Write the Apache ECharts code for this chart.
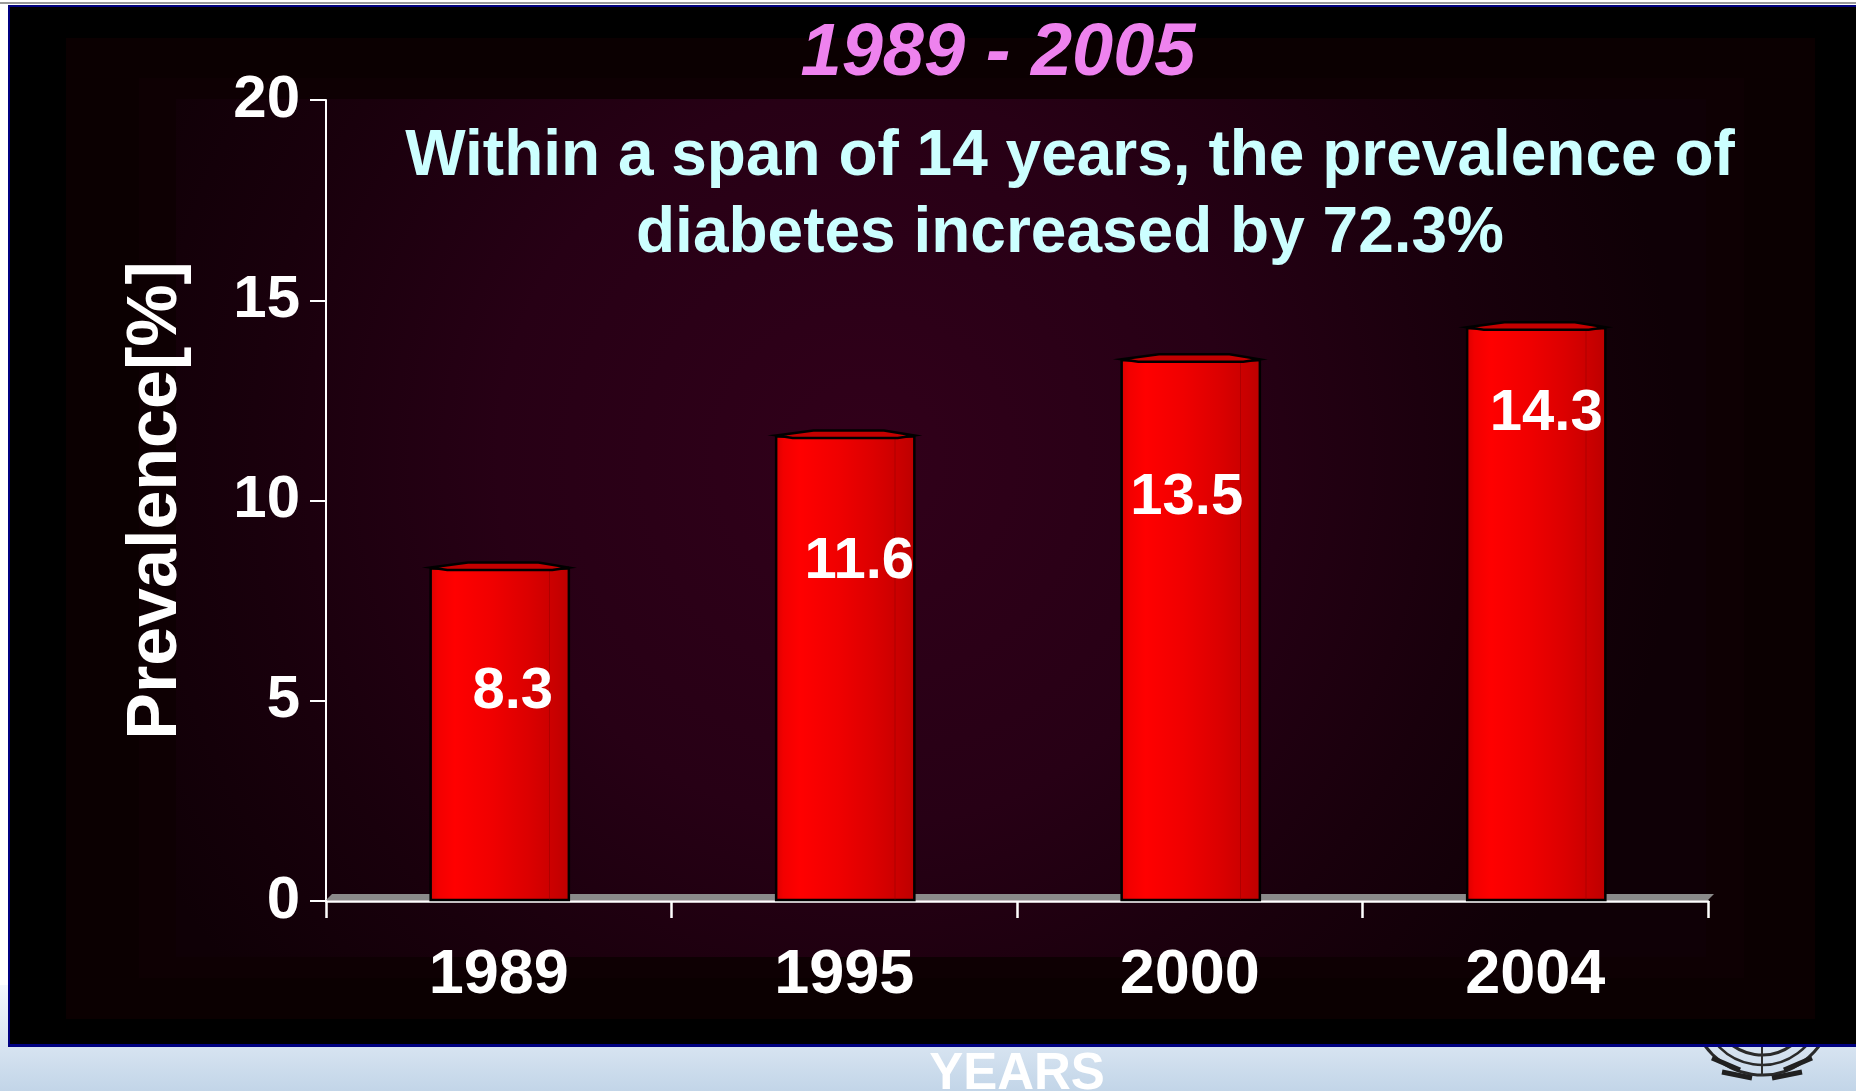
<!DOCTYPE html>
<html>
<head>
<meta charset="utf-8">
<script src="https://cdn.jsdelivr.net/npm/echarts@6/dist/echarts.min.js"></script>
<style>
html,body{margin:0;padding:0;background:#fff;}
#chart{width:1856px;height:1091px;}
</style>
</head>
<body>
<div id="chart"></div>
<script>
// ---- data ----
const categories = ['1989', '1995', '2000', '2004'];
const prevalence = [8.3, 11.6, 13.5, 14.3];
const yTicks = { min: 0, max: 20, interval: 5 };
const titleText = '1989 - 2005';
const subtitleText = 'Within a span of 14 years, the prevalence of\ndiabetes increased by 72.3%';
const yAxisName = 'Prevalence[%]';
const xAxisName = 'YEARS';

// ---- style (label placement relative to bar top-centre, px) ----
const labelOffsets = [[14, 123], [15, 126], [-3, 138], [11, 86]];
const FONT = '"Liberation Sans", Arial, sans-serif';

const chart = echarts.init(document.getElementById('chart'), null, { renderer: 'canvas' });

const barGradient = new echarts.graphic.LinearGradient(0, 0, 1, 0, [
  { offset: 0, color: '#d80000' },
  { offset: 0.06, color: '#f20000' },
  { offset: 0.18, color: '#ff0000' },
  { offset: 0.45, color: '#f00000' },
  { offset: 0.7, color: '#dc0000' },
  { offset: 0.9, color: '#c80000' },
  { offset: 1, color: '#bc0000' }
]);

// simple emblem strokes in the lower-right (mostly hidden behind the black panel)
const emblem = [];
[[70, 3], [60, 2.5], [50, 3]].forEach(function (r) {
  emblem.push({ type: 'arc', z: -99.5, shape: { cx: 1762, cy: 1005, r: r[0], startAngle: 0.15, endAngle: Math.PI - 0.15 },
    style: { stroke: '#2a2a2a', lineWidth: r[1], fill: null } });
});
[[1712, 1058, 1740, 1070], [1812, 1058, 1784, 1070], [1722, 1072, 1752, 1078], [1802, 1072, 1772, 1078]].forEach(function (p) {
  emblem.push({ type: 'line', z: -99.5, shape: { x1: p[0], y1: p[1], x2: p[2], y2: p[3] },
    style: { stroke: '#202020', lineWidth: 5 } });
});
emblem.push({ type: 'line', z: -99.5, shape: { x1: 1762, y1: 1047, x2: 1762, y2: 1076 }, style: { stroke: '#303030', lineWidth: 2 } });

const option = {
  animation: false,
  backgroundColor: '#ffffff',
  graphic: [
    { type: 'rect', z: -100, shape: { x: 0, y: 985, width: 1856, height: 106 },
      style: { fill: new echarts.graphic.LinearGradient(0, 0, 0, 1, [
        { offset: 0, color: '#f4f8fd' }, { offset: 1, color: '#c2d5e8' }]) } },
    { type: 'rect', z: -100, shape: { x: 0, y: 2, width: 1856, height: 2 }, style: { fill: '#9a9a9a' } }
  ].concat(emblem).concat([
    { type: 'rect', z: -99, shape: { x: 8, y: 5, width: 1848, height: 1042 }, style: { fill: '#000080' } },
    { type: 'rect', z: -98, shape: { x: 10, y: 7, width: 1846, height: 1037 }, style: { fill: '#000000' } },
    { type: 'rect', z: -97, shape: { x: 66, y: 38, width: 1749, height: 981 }, style: { fill: '#0b0001' } },
    { type: 'rect', z: -96, shape: { x: 139, y: 78, width: 1605, height: 900 }, style: { fill: '#0e0003' } },
    { type: 'rect', z: -95, shape: { x: 176, y: 99, width: 1530, height: 858 },
      style: { fill: new echarts.graphic.RadialGradient(0.45, 0.42, 0.95, [
        { offset: 0, color: '#31001a' },
        { offset: 0.45, color: '#270015' },
        { offset: 0.75, color: '#19000c' },
        { offset: 1, color: '#0f0006' }]) } }
  ]),
  title: [
    { text: titleText, left: 993, top: 13, textAlign: 'center',
      textStyle: { color: '#ee82ee', fontStyle: 'italic', fontWeight: 'bold', fontSize: 74, fontFamily: FONT } },
    { text: subtitleText, left: 1065, top: 114, textAlign: 'center',
      textStyle: { color: '#ccffff', fontWeight: 'bold', fontSize: 64, lineHeight: 77, fontFamily: FONT } }
  ],
  grid: { left: 326, right: 148, top: 100, bottom: 190, outerBoundsMode: 'none', containLabel: false },
  xAxis: {
    type: 'category',
    data: categories,
    boundaryGap: true,
    name: xAxisName,
    nameLocation: 'middle',
    nameGap: 148,
    nameTextStyle: { color: '#ffffff', fontWeight: 'bold', fontSize: 51, fontFamily: FONT },
    axisLine: { lineStyle: { color: '#ffffff', width: 2.5 } },
    axisTick: { show: true, length: 17, lineStyle: { color: '#ffffff', width: 2.5 } },
    axisLabel: { color: '#ffffff', fontWeight: 'bold', fontSize: 63, fontFamily: FONT, margin: 43 },
    splitLine: { show: false }
  },
  yAxis: {
    type: 'value',
    min: yTicks.min, max: yTicks.max, interval: yTicks.interval,
    name: yAxisName,
    nameLocation: 'middle',
    nameGap: 134,
    nameTextStyle: { color: '#ffffff', fontWeight: 'bold', fontSize: 70, fontFamily: FONT },
    axisLine: { show: true, lineStyle: { color: '#ffffff', width: 2 } },
    axisTick: { show: true, length: 16, lineStyle: { color: '#ffffff', width: 2 } },
    axisLabel: { color: '#ffffff', fontWeight: 'bold', fontSize: 60, fontFamily: FONT, margin: 26 },
    splitLine: { show: false }
  },
  series: [
    {
      type: 'custom',
      name: 'floor',
      z: 1,
      data: [[0, 0]],
      renderItem: function (params, api) {
        const band = api.size([1, 0])[0];
        const p0 = api.coord([0, 0]);
        const pN = api.coord([categories.length - 1, 0]);
        const left = p0[0] - band / 2, right = pN[0] + band / 2, y = p0[1] - 1;
        return {
          type: 'polygon',
          shape: { points: [[left, y], [left + 6, y - 6], [right + 6, y - 6], [right, y]] },
          style: { fill: '#8a8a8a' }
        };
      }
    },
    {
      type: 'custom',
      name: 'Prevalence',
      z: 3,
      data: prevalence.map((v, i) => [i, v]),
      renderItem: function (params, api) {
        const i = api.value(0), v = api.value(1);
        const top = api.coord([i, v]);
        const base = api.coord([i, 0]);
        const bw = api.size([1, 0])[0] * 0.4;
        const L = top[0] - bw / 2 + 1, R = top[0] + bw / 2 + 1;
        const t = top[1], b = base[1] - 1;
        const off = labelOffsets[params.dataIndex];
        return {
          type: 'group',
          children: [
            { type: 'rect', shape: { x: L, y: t, width: R - L, height: b - t },
              style: { fill: barGradient, stroke: '#000000', lineWidth: 2.5 } },
            { type: 'line', shape: { x1: R - bw * 0.14, y1: t + 2, x2: R - bw * 0.14, y2: b },
              style: { stroke: 'rgba(120,0,0,0.35)', lineWidth: 1 } },
            { type: 'polygon',
              shape: { points: [[L, t - 1], [L + bw * 0.27, t - 6], [L + bw * 0.78, t - 6], [R, t - 1],
                                [R - bw * 0.12, t + 1.5], [L + bw * 0.12, t + 1.5]] },
              style: { fill: '#c40000', stroke: '#000000', lineWidth: 2.5 } },
            { type: 'text', z2: 10,
              style: { text: String(v), x: top[0] + off[0], y: t + off[1],
                       align: 'center', verticalAlign: 'middle',
                       fill: '#ffffff', font: 'bold 58px ' + FONT } }
          ]
        };
      }
    }
  ]
};
chart.setOption(option);
</script>
</body>
</html>
